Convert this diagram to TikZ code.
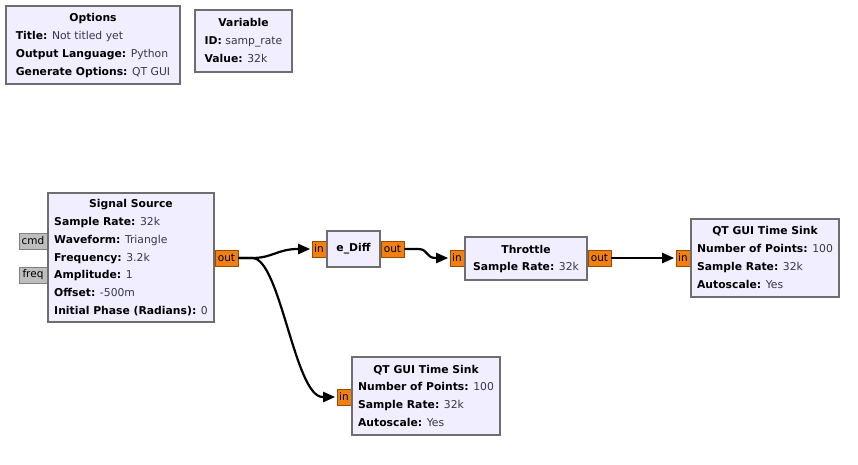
\documentclass[tikz,border=0pt]{standalone}
\usepackage{fontspec}
\setmainfont{DejaVu Sans}
\usetikzlibrary{arrows.meta,calc}
\definecolor{blockfill}{RGB}{240,238,255}
\definecolor{blockline}{RGB}{110,110,110}
\definecolor{portorange}{RGB}{240,128,20}
\definecolor{portgrey}{RGB}{190,190,190}
\definecolor{valuetext}{RGB}{55,55,70}
\newcommand{\blocktext}[2]{\begin{tabular}{@{}l@{}}\multicolumn{1}{@{}c@{}}{\bfseries #1}\\#2\end{tabular}}
\newcommand{\prm}[2]{\textbf{#1:} \textcolor{valuetext}{#2}}
\begin{document}
\begin{tikzpicture}[
    x=1pt, y=-1pt,
    every node/.style={font=\fontsize{10.8}{17.7}\selectfont},
    block/.style={rectangle, draw=blockline, fill=blockfill, line width=1.4pt, inner sep=0pt},
    port/.style={rectangle, draw=orange!60!black, fill=portorange, line width=0.6pt, inner sep=0pt, minimum height=16pt, font=\fontsize{10.5}{12}\selectfont},
    msgport/.style={port, draw=gray, fill=portgrey},
    wire/.style={-{Triangle[length=12pt,width=10pt]}, line width=2.2pt, shorten >=1.5pt,
        to path={-- ++(14,0) .. controls +(#1,0) and +(-#1,0) .. ($(\tikztotarget)+(-14,0)$) -- (\tikztotarget)}},
    wire/.default=20
]
    \path[fill=white, use as bounding box] (0,0) rectangle (858,464);

% -------------------------
% Top Blocks
% -------------------------
    \node[block, minimum width=174pt, minimum height=78pt] (options) at (93,45)
        {\blocktext{Options}{\prm{Title}{Not titled yet}\\\prm{Output Language}{Python}\\\prm{Generate Options}{QT GUI}}};
    \node[block, minimum width=97pt, minimum height=62pt] (variable) at (243.5,41)
        {\blocktext{Variable}{\prm{ID}{samp\_rate}\\\prm{Value}{32k}}};

% -------------------------
% Ports
% -------------------------
    % message ports sit under the source block
    \node[msgport, minimum width=28pt] (cmd) at (33,241) {cmd};
    \node[msgport, minimum width=28pt] (freq) at (33,275) {freq};
    \node[port, minimum width=23pt] (sigout) at (226.5,258) {out};
    \node[port, minimum width=14pt] (ediffin) at (319,249) {in};
    \node[port, minimum width=23pt] (ediffout) at (392.5,249) {out};
    \node[port, minimum width=14pt] (thrin) at (457,258) {in};
    \node[port, minimum width=23pt] (throut) at (599.5,258) {out};
    \node[port, minimum width=14pt] (sinkain) at (683,258) {in};
    \node[port, minimum width=14pt] (sinkbin) at (344,397) {in};

% -------------------------
% Flow Blocks
% -------------------------
    \node[block, minimum width=166pt, minimum height=129pt] (source) at (131,257.5)
        {\blocktext{Signal Source}{\prm{Sample Rate}{32k}\\\prm{Waveform}{Triangle}\\\prm{Frequency}{3.2k}\\\prm{Amplitude}{1}\\\prm{Offset}{-500m}\\\prm{Initial Phase (Radians)}{0}}};
    \node[block, minimum width=53pt, minimum height=36pt] (ediff) at (353.5,249) {\bfseries e\_Diff};
    \node[block, minimum width=122pt, minimum height=43pt] (throttle) at (526,258.5)
        {\blocktext{Throttle}{\prm{Sample Rate}{32k}}};
    \node[block, minimum width=148pt, minimum height=78pt] (sinka) at (765,258)
        {\blocktext{QT GUI Time Sink}{\prm{Number of Points}{100}\\\prm{Sample Rate}{32k}\\\prm{Autoscale}{Yes}}};
    \node[block, minimum width=148pt, minimum height=78pt] (sinkb) at (426,396)
        {\blocktext{QT GUI Time Sink}{\prm{Number of Points}{100}\\\prm{Sample Rate}{32k}\\\prm{Autoscale}{Yes}}};

% -------------------------
% Connections
% -------------------------
    \draw[wire] (sigout.east) to (ediffin.west);
    \draw[wire=28] (sigout.east) to (sinkbin.west);
    \draw[wire=10] (ediffout.east) to (thrin.west);
    \draw[wire] (throut.east) to (sinkain.west);
\end{tikzpicture}
\end{document}
